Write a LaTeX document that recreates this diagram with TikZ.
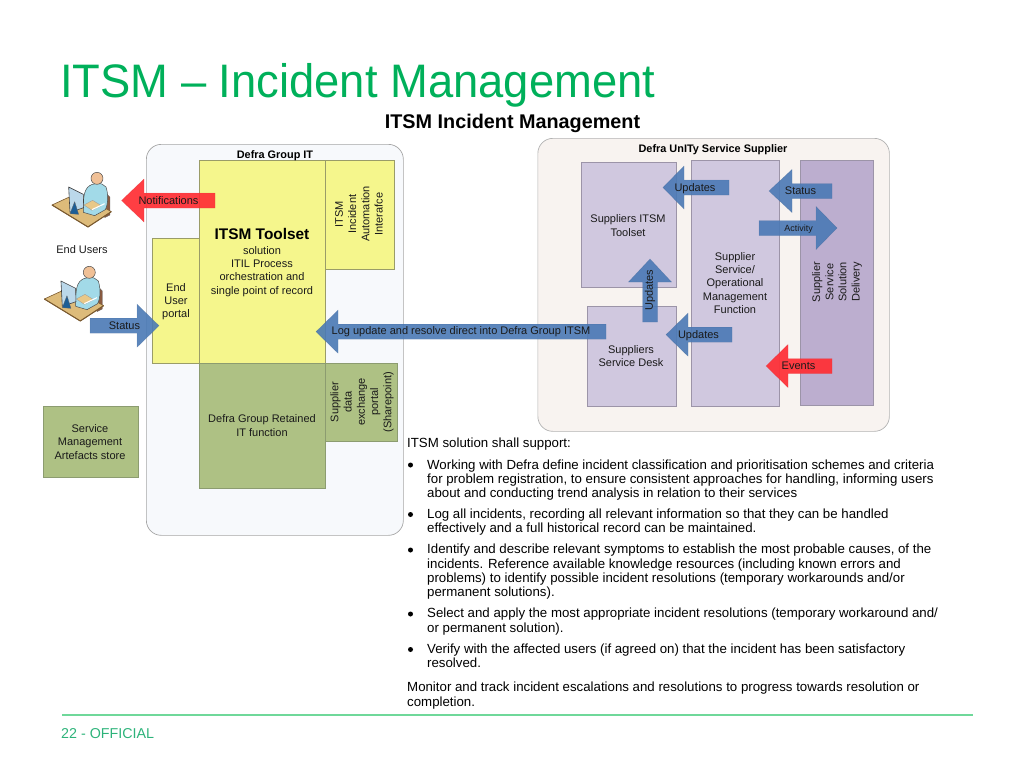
\documentclass[tikz,border=0pt]{standalone}
\usepackage{fontspec}
\setmainfont{Liberation Sans}
\definecolor{titlegreen}{HTML}{00B05A}
\definecolor{footgreen}{HTML}{2DB37A}
\definecolor{footline}{HTML}{6FD89A}
\definecolor{yel}{HTML}{F5F68C}
\definecolor{yeledge}{HTML}{9A9C68}
\definecolor{grn}{HTML}{AEC184}
\definecolor{grnedge}{HTML}{8C9C70}
\definecolor{lil}{HTML}{D0C8DF}
\definecolor{lildark}{HTML}{BCAECF}
\definecolor{liledge}{HTML}{9C94A8}
\definecolor{arrowblue}{HTML}{4A79B5}
\definecolor{arrowred}{HTML}{FF2F35}
\definecolor{txt}{HTML}{1A1A1A}
\definecolor{panelAfill}{HTML}{F7F9FC}
\definecolor{panelBfill}{HTML}{F8F3F0}
\definecolor{deskc}{HTML}{DDBB7A}
\definecolor{deskedge}{HTML}{7A5A30}
\definecolor{bodyc}{HTML}{A2DAE8}
\definecolor{paperc}{HTML}{E8C888}
\definecolor{headc}{HTML}{F0C096}
\definecolor{monc}{HTML}{BBD8EA}
\definecolor{standc}{HTML}{1D5E96}
\definecolor{chairc}{HTML}{8A5A40}
\tikzset{
  panelA/.style={draw=black!35,fill=panelAfill,rounded corners=15pt,line width=.7pt},
  panelB/.style={draw=black!30,fill=panelBfill,rounded corners=15pt,line width=.7pt},
  yelbox/.style={draw=yeledge,fill=yel,line width=.6pt},
  grnbox/.style={draw=grnedge,fill=grn,line width=.6pt},
  lilbox/.style={draw=liledge,fill=lil,line width=.6pt},
  lilboxd/.style={draw=liledge,fill=lildark,line width=.6pt},
  blockblue/.style={fill=arrowblue,fill opacity=.9,draw=arrowblue!80!black,draw opacity=.4,line width=.4pt},
  blockred/.style={fill=arrowred,fill opacity=.93,draw=arrowred!80!black,draw opacity=.3,line width=.4pt},
  lab/.style={font=\fontsize{11}{13.2}\selectfont,align=center,inner sep=0,text=txt,yshift=-1pt},
  vlab/.style={font=\fontsize{11}{13.2}\selectfont,align=center,inner sep=0,text=txt,rotate=90},
  boldlab/.style={font=\fontsize{10.9}{13}\selectfont\bfseries,inner sep=0,text=black,yshift=-1pt},
  para/.style={font=\fontsize{13.26}{14.35}\selectfont,align=left,inner sep=0,anchor=base west,text=black},
  bulletdot/.style={circle,fill=black,inner sep=0,minimum size=5pt},
}
% name, style, x1,y1,x2,y2
\newcommand\bx[6]{\node[#2,anchor=north west,inner sep=0,minimum width=#5pt-#3pt,minimum height=#6pt-#4pt] (#1) at (#3,#4) {};}
% name, style, tip, base, tail, cy, headhalf, bodyhalf
\newcommand\harr[8]{\coordinate (#1) at (#3,#6);
  \path[#2] (#1) -- (#4,#6-#7) -- (#4,#6-#8) -- (#5,#6-#8) -- (#5,#6+#8) -- (#4,#6+#8) -- (#4,#6+#7) -- cycle;}
\newcommand\varr[8]{\coordinate (#1) at (#6,#3);
  \path[#2] (#1) -- (#6-#7,#4) -- (#6-#8,#4) -- (#6-#8,#5) -- (#6+#8,#5) -- (#6+#8,#4) -- (#6+#7,#4) -- cycle;}
\newcommand\personicon[3]{%
\begin{scope}[shift={(#2,#3)},x=.3333pt,y=-.3333pt,line join=round]
  \coordinate (#1) at (100,100);
  % chair
  \path[fill=chairc,draw=black!60,line width=.3pt] (172,82) -- (186,96) -- (186,150) -- (170,158) -- cycle;
  % desk
  \path[fill=deskc,draw=deskedge,line width=.6pt] (12,120) -- (90,84) -- (190,140) -- (120,186) -- cycle;
  \path[draw=deskedge,line width=1pt] (12,120) -- (120,186) -- (190,140);
  % body
  \path[fill=bodyc,draw=black!70,line width=.5pt] (118,68) .. controls (132,52) and (162,50) .. (174,66) .. controls (182,90) and (180,118) .. (172,134) -- (140,152) -- (106,142) -- (106,110) .. controls (108,90) and (110,78) .. (118,68) -- cycle;
  % paper
  \path[fill=paperc,draw=black!40,line width=.3pt] (108,120) -- (134,106) -- (160,122) -- (132,136) -- cycle;
  \path[draw=white,line width=1.1pt] (132,134) -- (170,116);
  % head
  \path[fill=headc,draw=black!70,line width=.5pt] (147,40) circle[radius=18];
  % monitor
  \path[fill=monc,draw=black!75,line width=.6pt] (62,66) -- (106,88) -- (107,128) -- (66,142) -- cycle;
  \path[fill=standc,draw=black!60,line width=.3pt] (80,110) -- (66,146) -- (92,148) -- cycle;
\end{scope}}
\begin{document}
\begin{tikzpicture}[x=1pt,y=-1pt]
\useasboundingbox (0,0) rectangle (1024,768);
\node[font=\fontsize{47}{50}\selectfont,anchor=base west,inner sep=0,text=titlegreen,xscale=.965] (title) at (60,97) {ITSM – Incident Management};
\node[font=\fontsize{19.8}{22}\selectfont\bfseries,anchor=base,inner sep=0] (subtitle) at (512.5,128) {ITSM Incident Management};

\bx{groupit}{panelA}{146}{144}{403}{535}
\bx{supplier}{panelB}{537.5}{138}{889}{431}

\bx{portal}{yelbox}{152}{238}{199}{363}
\bx{toolset}{yelbox}{199}{160}{325}{363}
\bx{iface}{yelbox}{325}{160}{394}{269}
\bx{retained}{grnbox}{199}{363}{325}{488}
\bx{exchange}{grnbox}{325}{363}{397}{441}
\bx{store}{grnbox}{43}{406}{138}{477}

\bx{supitsm}{lilbox}{581}{162}{676}{287}
\bx{desk}{lilbox}{587}{306}{676}{406}
\bx{opsfn}{lilbox}{691}{160}{779}{406}
\bx{delivery}{lilboxd}{800}{160}{873}{405}

\personicon{userA}{48}{165}
\personicon{userB}{40.3}{259}

\harr{aNotif}{blockred}{121.5}{144}{215}{200.5}{21.5}{7.5}
\harr{aStatusL}{blockblue}{159}{137}{90}{325.7}{21.5}{7.5}
\harr{aLog}{blockblue}{316}{338}{606}{331.7}{21.5}{7.5}
\harr{aUpdT}{blockblue}{663}{684}{729}{187.5}{21.5}{7.5}
\harr{aStatusR}{blockblue}{769}{792}{832}{191}{21.5}{7.5}
\harr{aActivity}{blockblue}{837}{816}{759}{228}{21.5}{7.5}
\harr{aUpdB}{blockblue}{666}{688}{732}{334.7}{21.5}{7.5}
\harr{aEvents}{blockred}{766}{788}{832}{366}{21.5}{7.5}
\varr{aUpdV}{blockblue}{259}{282}{322}{650}{21.5}{7.5}

\node[boldlab] (lgroup) at (275,155) {Defra Group IT};
\node[boldlab] (lsup) at (713,148.5) {Defra UnITy Service Supplier};
\node[font=\fontsize{15.4}{17}\selectfont\bfseries,inner sep=0] (ltool) at (262,233.5) {ITSM Toolset};
\node[lab] (lsol) at (262,270.5) {solution\\ITIL Process\\orchestration and\\single point of record};
\node[lab] (lport) at (176,300.5) {End\\User\\portal};
\node[vlab] (liface) at (359,214) {ITSM\\Incident\\Automation\\Interafce};
\node[lab] (lret) at (262,424.5) {Defra Group Retained\\IT function};
\node[vlab] (lexch) at (362,402) {Supplier\\data\\exchange\\portal\\(Sharepoint)};
\node[lab] (lstore) at (90,441) {Service\\Management\\Artefacts store};
\node[lab] (lusers) at (82,248.5) {End Users};
\node[lab] (lnotif) at (168.5,200) {Notifications};
\node[lab] (lstatl) at (124.5,325) {Status};
\node[lab] (llog) at (461,331) {Log update and resolve direct into Defra Group ITSM};
\node[lab] (lsupi) at (628,224.5) {Suppliers ITSM\\Toolset};
\node[lab] (ldesk) at (631,355) {Suppliers\\Service Desk};
\node[lab] (lops) at (735,282) {Supplier\\Service/\\Operational\\Management\\Function};
\node[vlab] (ldel) at (837,282) {Supplier\\Service\\Solution\\Delivery};
\node[lab] (lupdt) at (695,188) {Updates};
\node[lab] (lstatr) at (800.5,189.5) {Status};
\node[lab,font=\fontsize{9}{11}\selectfont] (lact) at (798.5,228) {Activity};
\node[lab] (lupdb) at (698.5,335) {Updates};
\node[lab] (levt) at (798.5,364.5) {Events};
\node[vlab] (lupdv) at (650,290) {Updates};

\node[para] (p0) at (407,447.5) {ITSM solution shall support:};
\node[para] (p1) at (427,497.7) {Working with Defra define incident classification and prioritisation schemes and criteria\\for problem registration, to ensure consistent approaches for handling, informing users\\about and conducting trend analysis in relation to their services};
\node[para] (p2) at (427,532.7) {Log all incidents, recording all relevant information so that they can be handled\\effectively and a full historical record can be maintained.};
\node[para] (p3) at (427,596.7) {Identify and describe relevant symptoms to establish the most probable causes, of the\\incidents. Reference available knowledge resources (including known errors and\\problems) to identify possible incident resolutions (temporary workarounds and/or\\permanent solutions).};
\node[para] (p4) at (427,632) {Select and apply the most appropriate incident resolutions (temporary workaround and/\\or permanent solution).};
\node[para] (p5) at (427,667.5) {Verify with the affected users (if agreed on) that the incident has been satisfactory\\resolved.};
\node[para] (p6) at (407,706) {Monitor and track incident escalations and resolutions to progress towards resolution or\\completion.};
\node[bulletdot] (b1) at (410.5,465) {};
\node[bulletdot] (b2) at (410.5,514.5) {};
\node[bulletdot] (b3) at (410.5,550) {};
\node[bulletdot] (b4) at (410.5,614) {};
\node[bulletdot] (b5) at (410.5,649.5) {};

\coordinate (fl) at (62,715);
\coordinate (fr) at (973,715);
\draw[draw=footline,line width=1.2pt] (fl) -- (fr);
\node[font=\fontsize{14.3}{16}\selectfont,anchor=base west,inner sep=0,text=footgreen] (foot) at (61,738) {22 - OFFICIAL};
\end{tikzpicture}
\end{document}
